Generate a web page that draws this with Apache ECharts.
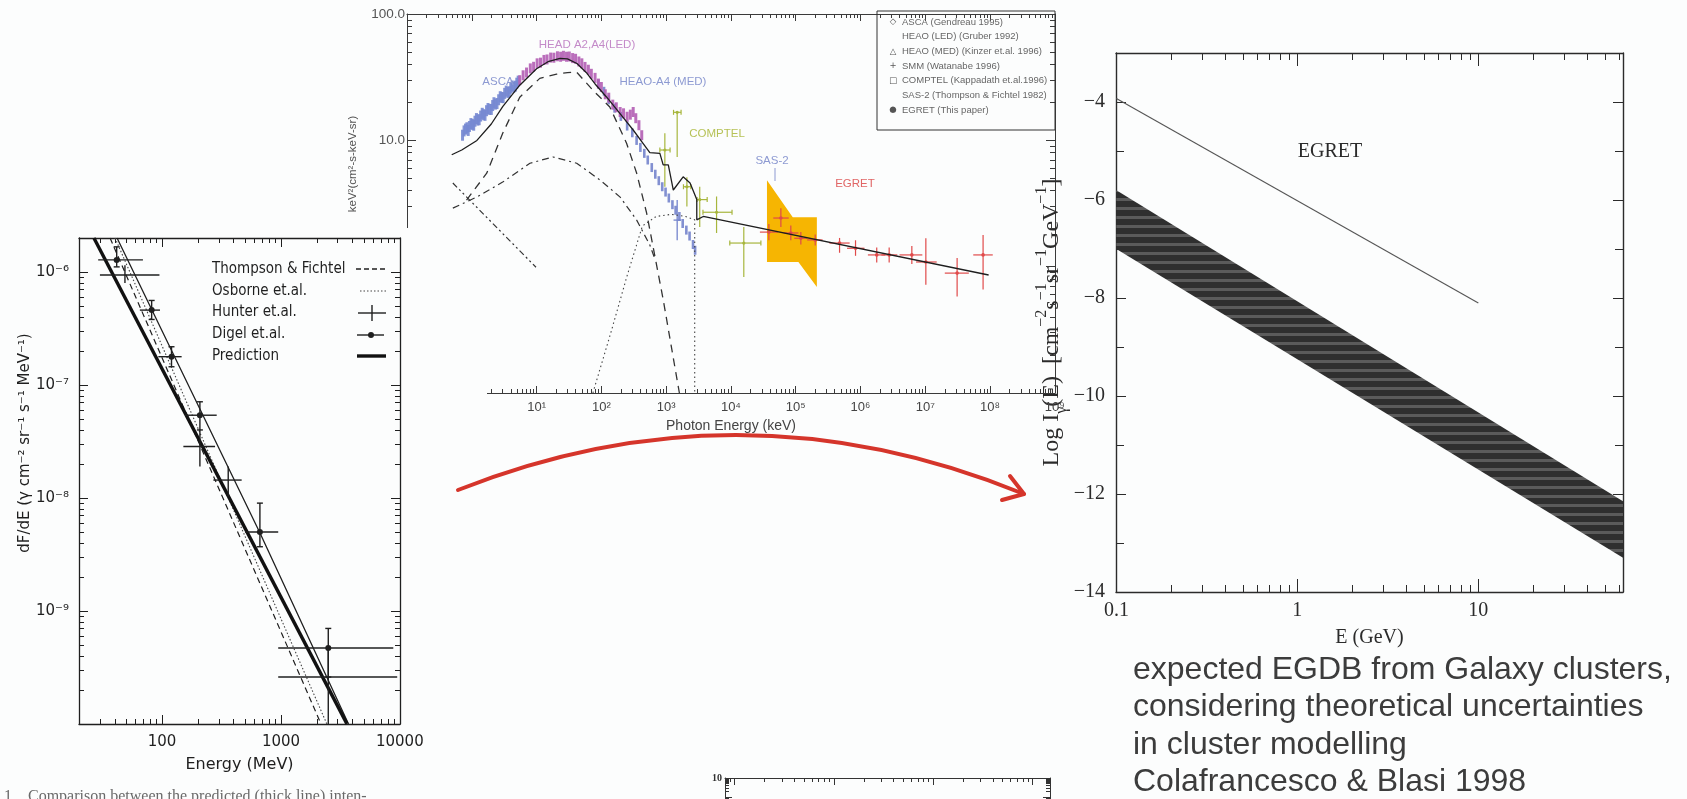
<!DOCTYPE html>
<html>
<head>
<meta charset="utf-8">
<title>Extragalactic gamma-ray background</title>
<script src="https://cdn.jsdelivr.net/npm/echarts@6.0.0/dist/echarts.min.js"></script>
<style>
  html, body { margin: 0; padding: 0; background: #fcfdfd; }
  #chart { width: 1687px; height: 799px; }
</style>
</head>
<body>
<div id="chart"></div>
<script>
/* ---------- Panel A: diffuse gamma-ray intensity (MeV) ---------- */
const aXLabels = [100, 1000, 10000];
const aYLabels = [1e-9, 1e-8, 1e-7, 1e-6];
// rows: [E (MeV), flux, E low, E high, flux low, flux high]
const hunterPts = [
  [48.7, 9.4e-7, 30, 95, 8.0e-7, 1.15e-6],
  [208, 2.85e-8, 151, 279, 1.9e-8, 4.0e-8],
  [360, 1.44e-8, 270, 467, 1.03e-8, 1.9e-8],
  [2500, 2.6e-10, 948, 9500, 1.0e-10, 4.7e-10]
];
const digelPts = [
  [41.5, 1.28e-6, 29, 69, 1.11e-6, 1.67e-6],
  [81.7, 4.6e-7, 65, 96, 3.8e-7, 5.6e-7],
  [120, 1.78e-7, 93, 146, 1.45e-7, 2.18e-7],
  [208, 5.4e-8, 156, 288, 4.0e-8, 7.1e-8],
  [665, 5.0e-9, 498, 948, 3.7e-9, 9.0e-9],
  [2500, 4.7e-10, 948, 8810, 2.6e-10, 7.0e-10]
];
const predictionThick = [[26.7, 2e-6], [3590, 1e-10]];
const predictionThin = [[41.8, 2e-6], [666, 4.9e-9], [3700, 1e-10]];
const thompsonFichtel = [[36.5, 2e-6], [2170, 1e-10]];
const osborne = [[40.2, 2e-6], [2430, 1e-10]];
const aLegend = ['Thompson & Fichtel', 'Osborne et.al.', 'Hunter et.al.', 'Digel et.al.', 'Prediction'];

/* ---------- Panel B: X-ray / gamma-ray background spectrum (keV) ---------- */
const bXLabels = [1e1, 1e2, 1e3, 1e4, 1e5, 1e6, 1e7, 1e8, 1e9];
const bYLabels = [100, 10, 1];
const modelTotal = [[0.49, 7.7], [0.7, 8.4], [1.2, 10], [2, 13.5], [3, 18.5], [5.5, 27.4], [10, 37], [15, 42],
  [23, 44.6], [30, 44.2], [42, 40.7], [60, 34], [80, 28], [120, 22.1], [200, 16], [310, 12.1], [420, 9.8],
  [560, 8.0], [800, 7.9], [900, 6.4], [1080, 6.4], [1290, 4.05], [1830, 5.15], [2340, 4.6], [2970, 3.4],
  [2970, 2.35], [3740, 2.5], [9.5e7, 0.86]];
const compDashed = [[0.83, 3.37], [1.7, 5.5], [3.0, 11.4], [5.5, 22], [11.2, 31], [20.4, 33.5], [30, 34.5],
  [41.6, 34.7], [74, 25], [135, 18.4], [245, 9.5], [351, 5.5], [500, 2.66], [900, 0.55], [1600, 0.1]];
const compDashDot = [[0.51, 2.91], [1.19, 3.56], [3.0, 4.68], [7.9, 6.6], [17.9, 7.4], [41.6, 6.6], [96, 4.85],
  [195, 3.56], [351, 2.34], [562, 1.48], [680, 1.13]];
const compDashDotDot = [[0.51, 4.6], [9.8, 0.99]];
const compDotted = [[74, 0.1], [140, 0.3], [250, 0.85], [430, 2.1], [700, 2.5], [1200, 2.6], [2000, 2.5],
  [2760, 2.35], [2760, 0.1]];
const ascaPts = [[0.72, 11.0], [0.76, 11.9], [0.8, 12.3], [0.84, 12.6], [0.88, 12.0], [0.92, 12.9], [0.97, 13.6],
  [1.02, 13.4], [1.07, 13.2], [1.12, 14.2], [1.18, 14.9], [1.24, 14.5], [1.3, 14.6], [1.37, 15.6], [1.45, 16.4],
  [1.52, 16.0], [1.6, 15.8], [1.69, 17.2], [1.78, 17.9], [1.89, 17.6], [2.0, 17.6], [2.1, 18.9], [2.2, 19.9],
  [2.32, 19.4], [2.45, 19.6], [2.6, 21.0], [2.75, 22.2], [2.9, 21.9], [3.05, 21.8], [3.22, 23.6], [3.4, 24.6],
  [3.6, 24.0], [3.8, 24.3], [4.0, 25.9], [4.2, 27.0], [4.45, 26.4], [4.7, 26.9], [4.95, 28.4], [5.2, 29.5]];
const heaoLedPts = [[5.5, 30], [6.2, 32.8], [7, 34.5], [8, 37.2], [9, 38.3], [10.2, 40.8], [11.5, 41.3], [13, 43.4],
  [14.5, 43.8], [16.5, 45.3], [18.5, 45.2], [21, 46.4], [23.5, 46], [26, 46.8], [29, 46], [32, 46.2], [36, 44.9],
  [40, 44.3], [45, 42.2], [50, 40.8], [56, 38.2], [63, 36.3], [70, 33.7], [80, 31.3], [90, 28.2], [100, 26.5],
  [115, 23.2], [130, 21.8], [150, 19.2], [170, 18.3], [195, 16.8], [220, 16.4], [250, 15.4], [280, 16.0],
  [310, 16.8], [340, 15.0], [380, 13.2], [420, 11]];
const heaoMedPts = [[90, 28], [110, 24.5], [130, 21], [160, 18], [200, 15.5], [250, 13], [300, 11.5], [350, 10],
  [400, 8.8], [460, 7.9], [520, 7.0], [600, 6.1], [680, 5.4], [770, 4.8], [870, 4.3], [980, 3.9], [1100, 3.5],
  [1250, 3.1], [1400, 2.8], [1600, 2.5], [1800, 2.2], [2050, 1.95], [2300, 1.75], [2600, 1.5], [2800, 1.35]];
// rows: [E, value, E low, E high, value low, value high]
const smmPts = [[1480, 2.34, 1300, 1700, 1.62, 3.37]];
const comptelPts = [
  [955, 8.4, 800, 1150, 4.3, 11.4],
  [1480, 16.7, 1300, 1700, 7.4, 16.7],
  [2090, 4.3, 1850, 2400, 3.0, 5.1],
  [3300, 3.4, 3000, 4300, 2.06, 4.3],
  [6000, 2.7, 3700, 10400, 1.85, 3.6],
  [15800, 1.54, 9600, 29000, 0.83, 2.06]
];
const sas2Band = [[36000, 4.85], [90000, 2.47], [212000, 2.47], [212000, 0.69], [110000, 1.09], [36000, 1.09]];
const egretPts = [
  [38500, 1.88, 28000, 53000, 1.62, 2.18],
  [59000, 2.43, 45000, 78000, 2.06, 2.91],
  [84000, 1.85, 65000, 110000, 1.62, 2.12],
  [120000, 1.68, 95000, 150000, 1.50, 1.88],
  [200000, 1.63, 150000, 260000, 1.47, 1.80],
  [475000, 1.54, 330000, 680000, 1.29, 1.69],
  [838000, 1.40, 620000, 1.15e6, 1.22, 1.62],
  [1.78e6, 1.24, 1.3e6, 2.4e6, 1.08, 1.42],
  [2.77e6, 1.24, 2.1e6, 3.7e6, 1.08, 1.42],
  [6.2e6, 1.24, 4.0e6, 9.0e6, 1.05, 1.46],
  [1.02e7, 1.09, 7.2e6, 1.5e7, 0.72, 1.68],
  [3.1e7, 0.89, 2.0e7, 4.7e7, 0.58, 1.17],
  [7.8e7, 1.24, 5.5e7, 1.1e8, 0.66, 1.78]
];
const bLegend = [['◇', 'ASCA (Gendreau 1995)'], ['', 'HEAO (LED) (Gruber 1992)'],
  ['△', 'HEAO (MED) (Kinzer et.al. 1996)'], ['+', 'SMM (Watanabe 1996)'],
  ['□', 'COMPTEL (Kappadath et.al.1996)'], ['', 'SAS-2 (Thompson & Fichtel 1982)'], ['●', 'EGRET (This paper)']];

/* ---------- Panel C: expected background from galaxy clusters ---------- */
const cXLabels = [0.1, 1, 10];
const cYLabels = [-14, -12, -10, -8, -6, -4];
const cYMinor = [-13, -11, -9, -7, -5, -3];
const egretC = [[0.1, -3.93], [10, -8.1]];
const clusterUpper = [[0.1, -5.8], [63, -12.15]];
const clusterLower = [[0.1, -7.0], [63, -13.3]];
const cText = ['expected EGDB from Galaxy clusters,', 'considering theoretical uncertainties',
  'in cluster modelling', 'Colafrancesco & Blasi 1998'];

/* ---------- helpers ---------- */
const SUP = { '-': '⁻', '0': '⁰', '1': '¹', '2': '²', '3': '³', '4': '⁴', '5': '⁵', '6': '⁶', '7': '⁷', '8': '⁸', '9': '⁹' };
const pow10Label = v => '10' + String(Math.round(Math.log10(v))).split('').map(c => SUP[c]).join('');
function decades(e0, e1) { const t = []; for (let e = e0; e <= e1; e++) t.push(+Math.pow(10, e).toPrecision(6)); return t; }
function minorTicks(e0, e1) {
  const t = [];
  for (let e = e0; e < e1; e++) for (let k = 2; k <= 9; k++) t.push(+(k * Math.pow(10, e)).toPrecision(6));
  return t;
}

const xAxes = [], yAxes = [];
function addAxes(list, dim, cfg) {
  const sides = dim === 'x' ? ['bottom', 'top'] : ['left', 'right'];
  const first = list.length;
  const tickStyle = { color: cfg.color, width: cfg.tickWidth || 1 };
  sides.forEach((side, i) => {
    const ax = {
      gridIndex: cfg.grid, type: cfg.type, min: cfg.min, max: cfg.max, position: side, z: cfg.z || 0,
      axisLine: { show: true, onZero: false, lineStyle: { color: cfg.color, width: cfg.lineWidth || 1 } },
      splitLine: { show: false },
      axisTick: { show: true, inside: true, length: cfg.majorLen, customValues: cfg.majors, lineStyle: tickStyle },
      axisLabel: (i === 0 && cfg.labels)
        ? Object.assign({ show: true, customValues: cfg.labels, formatter: cfg.formatter }, cfg.labelStyle)
        : { show: false }
    };
    if (i === 0 && cfg.name) {
      ax.name = cfg.name; ax.nameLocation = 'middle'; ax.nameGap = cfg.nameGap; ax.nameTextStyle = cfg.nameStyle;
    }
    list.push(ax);
    if (cfg.minors) {
      list.push({
        gridIndex: cfg.grid, type: cfg.type, min: cfg.min, max: cfg.max, position: side, z: cfg.z || 0,
        axisLine: { show: false }, splitLine: { show: false }, axisLabel: { show: false },
        axisTick: { show: true, inside: true, length: cfg.minorLen, customValues: cfg.minors, lineStyle: tickStyle }
      });
    }
  });
  return first;
}

/* ---------- axes ---------- */
const fontA = 'DejaVu Sans', fontB = 'Liberation Sans', fontC = 'Liberation Serif';
const inkA = '#1f1f1f', inkB = '#3a3a3a', inkC = '#2b2b2b';

const axA = addAxes(xAxes, 'x', {
  grid: 0, type: 'log', min: 20, max: 10030, z: 60, color: inkA, lineWidth: 1.3,
  majors: decades(2, 4), minors: minorTicks(1, 4).filter(v => v >= 20), majorLen: 9, minorLen: 5,
  labels: aXLabels, formatter: v => String(Math.round(v)),
  labelStyle: { fontFamily: fontA, fontSize: 15, color: inkA, margin: 11 },
  name: 'Energy (MeV)', nameGap: 33, nameStyle: { fontFamily: fontA, fontSize: 16, color: inkA }
});
const ayA = addAxes(yAxes, 'y', {
  grid: 0, type: 'log', min: 9.98e-11, max: 2e-6, z: 60, color: inkA, lineWidth: 1.3,
  majors: decades(-10, -6), minors: minorTicks(-10, -6).filter(v => v <= 2e-6), majorLen: 9, minorLen: 5,
  labels: aYLabels, formatter: pow10Label,
  labelStyle: { fontFamily: fontA, fontSize: 15, color: inkA, margin: 10 }
});

const axB = addAxes(xAxes, 'x', {
  grid: 1, type: 'log', min: 0.1, max: 1.005e9, color: inkB,
  majors: decades(0, 9), minors: minorTicks(-1, 9), majorLen: 7, minorLen: 4,
  labels: bXLabels, formatter: pow10Label,
  labelStyle: { fontFamily: fontB, fontSize: 13, color: '#444', margin: 8 },
  name: 'Photon Energy (keV)', nameGap: 26, nameStyle: { fontFamily: fontB, fontSize: 14, color: '#444' }
});
const ayB = addAxes(yAxes, 'y', {
  grid: 1, type: 'log', min: 0.1, max: 100.3, color: inkB,
  majors: decades(-1, 2), minors: minorTicks(-1, 2), majorLen: 9, minorLen: 5,
  labels: bYLabels, formatter: v => v.toFixed(1),
  labelStyle: { fontFamily: fontB, fontSize: 13.5, color: '#555', margin: 2 }
});

const axC = addAxes(xAxes, 'x', {
  grid: 2, type: 'log', min: 0.0995, max: 63, color: inkC, lineWidth: 1.4,
  majors: decades(-1, 1), minors: minorTicks(-1, 2).filter(v => v <= 63), majorLen: 13, minorLen: 7,
  labels: cXLabels, formatter: v => String(+v.toPrecision(3)),
  labelStyle: { fontFamily: fontC, fontSize: 20, color: inkC, margin: 9 },
  name: 'E (GeV)', nameGap: 36, nameStyle: { fontFamily: fontC, fontSize: 20, color: inkC }
});
const ayC = addAxes(yAxes, 'y', {
  grid: 2, type: 'value', min: -14, max: -3, color: inkC, lineWidth: 1.4,
  majors: cYLabels, minors: cYMinor, majorLen: 10, minorLen: 8,
  labels: cYLabels, formatter: v => (v < 0 ? '\u2212' + (-v) : String(v)),
  labelStyle: { fontFamily: fontC, fontSize: 20, color: inkC, margin: 11 },
  name: '{b|Log I}{sub|γ}{b|(E)  [cm}{sup|−2}{b|s}{sup|−1}{b|sr}{sup|−1}{b|GeV}{sup|−1}{b|]}', nameGap: 40,
  nameStyle: {
    fontFamily: fontC, fontSize: 24, color: inkC, lineHeight: 36,
    rich: {
      b: { fontFamily: fontC, fontSize: 24, color: inkC, lineHeight: 36, verticalAlign: 'middle' },
      sub: { fontFamily: fontC, fontSize: 16, color: inkC, lineHeight: 36, verticalAlign: 'bottom' },
      sup: { fontFamily: fontC, fontSize: 16, color: inkC, lineHeight: 36, verticalAlign: 'top' }
    }
  }
});

const axD = addAxes(xAxes, 'x', {
  grid: 3, type: 'log', min: 0.08, max: 150, color: '#333',
  majors: decades(-1, 2), minors: minorTicks(-2, 3).filter(v => v >= 0.08 && v <= 150), majorLen: 7, minorLen: 4
});
const ayD = addAxes(yAxes, 'y', {
  grid: 3, type: 'log', min: 0.001, max: 10.02, color: '#333',
  majors: decades(-3, 1), minors: minorTicks(-3, 1), majorLen: 7, minorLen: 4,
  labels: [10], formatter: v => String(Math.round(v)),
  labelStyle: { fontFamily: fontC, fontSize: 10, color: '#333', margin: 3, fontWeight: 'bold' }
});

/* ---------- series helpers ---------- */
const lineS = (data, xi, yi, style, z) => ({
  type: 'line', data, xAxisIndex: xi, yAxisIndex: yi, symbol: 'none', lineStyle: style, z: z || 2, silent: true
});
const errS = (data, xi, yi, o) => ({
  type: 'custom', data, xAxisIndex: xi, yAxisIndex: yi, z: o.z || 3, silent: true,
  encode: { x: 0, y: 1 },
  renderItem: (params, api) => {
    const x = api.value(0), y = api.value(1);
    const c = api.coord([x, y]);
    const l = api.coord([api.value(2), y]), r = api.coord([api.value(3), y]);
    const b = api.coord([x, api.value(4)]), t = api.coord([x, api.value(5)]);
    const st = { stroke: o.color, lineWidth: o.lw };
    const ch = [
      { type: 'line', shape: { x1: l[0], y1: c[1], x2: r[0], y2: c[1] }, style: st },
      { type: 'line', shape: { x1: c[0], y1: b[1], x2: c[0], y2: t[1] }, style: st }
    ];
    if (o.cap) {
      ch.push({ type: 'line', shape: { x1: c[0] - o.cap, y1: t[1], x2: c[0] + o.cap, y2: t[1] }, style: st });
      ch.push({ type: 'line', shape: { x1: c[0] - o.cap, y1: b[1], x2: c[0] + o.cap, y2: b[1] }, style: st });
    }
    if (o.hcap) {
      ch.push({ type: 'line', shape: { x1: l[0], y1: c[1] - o.hcap, x2: l[0], y2: c[1] + o.hcap }, style: st });
      ch.push({ type: 'line', shape: { x1: r[0], y1: c[1] - o.hcap, x2: r[0], y2: c[1] + o.hcap }, style: st });
    }
    if (o.dot) ch.push({ type: 'circle', shape: { cx: c[0], cy: c[1], r: o.dot }, style: { fill: o.color } });
    return { type: 'group', children: ch };
  }
});
const dotsS = (data, xi, yi, color, size) => ({
  type: 'scatter', data, xAxisIndex: xi, yAxisIndex: yi, symbol: 'rect', symbolSize: size || [2.6, 9],
  itemStyle: { color, opacity: 0.9 }, z: 3, silent: true
});

// stripe texture for the cluster band
const stripe = document.createElement('canvas');
stripe.width = 8; stripe.height = 9;
(function () {
  const g = stripe.getContext('2d');
  g.fillStyle = '#2f2f2f'; g.fillRect(0, 0, 8, 9);
  g.fillStyle = '#5b5b5b'; g.fillRect(0, 0, 8, 3);
})();

/* ---------- series ---------- */
const series = [
  // panel A
  lineS(thompsonFichtel, axA, ayA, { color: inkA, width: 1.2, type: [6, 4] }, 60),
  lineS(osborne, axA, ayA, { color: '#444', width: 1.1, type: [1.5, 2] }, 60),
  lineS(predictionThin, axA, ayA, { color: inkA, width: 1.3 }, 60),
  lineS(predictionThick, axA, ayA, { color: '#111', width: 3.4 }, 61),
  errS(hunterPts, axA, ayA, { color: inkA, lw: 1.4, z: 62 }),
  errS(digelPts, axA, ayA, { color: inkA, lw: 1.4, dot: 3, cap: 3, z: 62 }),

  // panel B
  {
    type: 'custom', data: [sas2Band[0]], xAxisIndex: axB, yAxisIndex: ayB, z: 1, silent: true,
    renderItem: (p, api) => ({ type: 'polygon', shape: { points: sas2Band.map(v => api.coord(v)) }, style: { fill: '#f6b502' } })
  },
  dotsS(ascaPts, axB, ayB, '#7688d2', [3, 11]),
  dotsS(heaoMedPts, axB, ayB, '#7484cc'),
  dotsS(heaoLedPts, axB, ayB, '#b35eb4', [3, 10]),
  errS(smmPts, axB, ayB, { color: '#7484cc', lw: 1.3 }),
  errS(comptelPts, axB, ayB, { color: '#a7b63d', lw: 1.2, hcap: 2.5, dot: 1.6 }),
  errS(egretPts, axB, ayB, { color: '#e04a4a', lw: 1.2, dot: 1.8 }),
  lineS(compDashed, axB, ayB, { color: '#333', width: 1.3, type: [8, 6] }, 4),
  lineS(compDashDot, axB, ayB, { color: '#333', width: 1.2, type: [7, 4, 2, 4] }, 4),
  lineS(compDashDotDot, axB, ayB, { color: '#333', width: 1.2, type: [6, 3, 2, 3, 2, 3] }, 4),
  lineS(compDotted, axB, ayB, { color: '#444', width: 1.1, type: [1.5, 3] }, 4),
  lineS(modelTotal, axB, ayB, { color: '#1e1e1e', width: 1.3 }, 5),

  // panel C
  {
    type: 'custom', data: [clusterUpper[0]], xAxisIndex: axC, yAxisIndex: ayC, z: 2, silent: true,
    renderItem: (p, api) => ({
      type: 'polygon',
      shape: { points: clusterUpper.map(v => api.coord(v)).concat(clusterLower.slice().reverse().map(v => api.coord(v))) },
      style: { fill: { image: stripe, repeat: 'repeat' } }
    })
  },
  lineS(egretC, axC, ayC, { color: '#555', width: 1.1 }, 3)
];

/* ---------- annotations ---------- */
const txt = (x, y, text, o) => ({
  type: 'text', x, y, z: o.z || 6, rotation: o.rot || 0, silent: true,
  style: {
    text, fill: o.color, fontSize: o.size, fontFamily: o.font, fontWeight: o.weight || 'normal',
    textAlign: o.align || 'left', textVerticalAlign: 'middle', align: o.align || 'left', verticalAlign: 'middle'
  }
});
const seg = (x1, y1, x2, y2, o) => ({
  type: 'line', z: o.z || 6, silent: true, shape: { x1, y1, x2, y2 },
  style: { stroke: o.color, lineWidth: o.w || 1, lineDash: o.dash || null }
});

const graphic = [
  // panel A is laid over the lower-left corner of panel B
  { type: 'rect', z: 50, silent: true, shape: { x: 0, y: 228, width: 487, height: 571 }, style: { fill: '#fcfdfd' } },

  // panel A: y title and legend
  txt(25, 443, 'dF/dE (γ cm⁻² sr⁻¹ s⁻¹ MeV⁻¹)', { color: inkA, size: 15, font: fontA, align: 'center', rot: Math.PI / 2, z: 70 }),
  ...aLegend.map((s, i) => txt(212, 269 + i * 21.8, s, { color: inkA, size: 15, font: "'DejaVu Sans Condensed', 'DejaVu Sans'", z: 70 })),
  seg(356, 269, 386, 269, { color: inkA, w: 1.3, dash: [5, 3], z: 70 }),
  seg(360, 291, 386, 291, { color: '#444', w: 1.2, dash: [1.5, 2], z: 70 }),
  seg(358, 313, 386, 313, { color: inkA, w: 1.4, z: 70 }),
  seg(372, 305, 372, 321, { color: inkA, w: 1.4, z: 70 }),
  seg(357, 335, 384, 335, { color: inkA, w: 1.4, z: 70 }),
  { type: 'circle', z: 70, silent: true, shape: { cx: 371, cy: 335, r: 3 }, style: { fill: inkA } },
  seg(357, 356, 386, 356, { color: '#111', w: 3.4, z: 70 }),
  txt(4, 797, '1.   Comparison between the predicted (thick line) inten-', { color: '#6a6a6a', size: 16, font: fontC, z: 70 }),

  // panel B: y title, data-set tags and legend
  txt(353, 164, 'keV²(cm²-s-keV-sr)', { color: '#555', size: 11.5, font: fontB, align: 'center', rot: Math.PI / 2 }),
  txt(587, 45, 'HEAD A2,A4(LED)', { color: '#c48bc9', size: 11.5, font: fontB, align: 'center' }),
  txt(498, 82, 'ASCA', { color: '#8d9ad2', size: 11.5, font: fontB, align: 'center' }),
  txt(663, 82, 'HEAO-A4 (MED)', { color: '#8d9ad2', size: 11.5, font: fontB, align: 'center' }),
  txt(717, 134, 'COMPTEL', { color: '#b6c257', size: 11.5, font: fontB, align: 'center' }),
  txt(772, 161, 'SAS-2', { color: '#8d9ad2', size: 11.5, font: fontB, align: 'center' }),
  seg(775, 168, 775, 181, { color: '#8d9ad2', w: 1 }),
  txt(855, 184, 'EGRET', { color: '#e06565', size: 11.5, font: fontB, align: 'center' }),
  { type: 'rect', z: 6, silent: true, shape: { x: 877, y: 11, width: 178, height: 119 }, style: { fill: 'none', stroke: '#333', lineWidth: 1 } },
  ...bLegend.map((r, i) => txt(893, 22 + i * 14.7, r[0], { color: '#555', size: 8.5, font: 'DejaVu Sans', align: 'center' })),
  ...bLegend.map((r, i) => txt(902, 22 + i * 14.7, r[1], { color: '#666', size: 9.5, font: fontB })),

  // panel C labels and caption
  txt(1330, 152, 'EGRET', { color: inkC, size: 20, font: fontC, align: 'center' }),
  ...cText.map((s, i) => txt(1133, 670 + i * 37.5, s, { color: '#3c3c3c', size: 32, font: fontB })),

  // arrow from the measured spectrum to the cluster prediction
  {
    type: 'bezierCurve', z: 80, silent: true,
    shape: { x1: 458, y1: 490, x2: 1024, y2: 494, cpx1: 741, cpy1: 378 },
    style: { stroke: '#d5352b', lineWidth: 4, fill: 'none', lineCap: 'round' }
  },
  {
    type: 'polyline', z: 80, silent: true,
    shape: { points: [[1010, 476], [1024, 494], [1002, 500]] },
    style: { stroke: '#d5352b', lineWidth: 4, fill: 'none', lineCap: 'round', lineJoin: 'round' }
  }
];

const option = {
  animation: false,
  backgroundColor: '#fcfdfd',
  grid: [
    { left: 79, top: 238, width: 321, height: 486, z: 60 },
    { left: 407, top: 14, width: 648, height: 379 },
    { left: 1116, top: 53, width: 507, height: 539 },
    { left: 725, top: 778, width: 325, height: 300 }
  ],
  xAxis: xAxes,
  yAxis: yAxes,
  series,
  graphic
};

const chart = echarts.init(document.getElementById('chart'));
chart.setOption(option);
</script>
</body>
</html>
